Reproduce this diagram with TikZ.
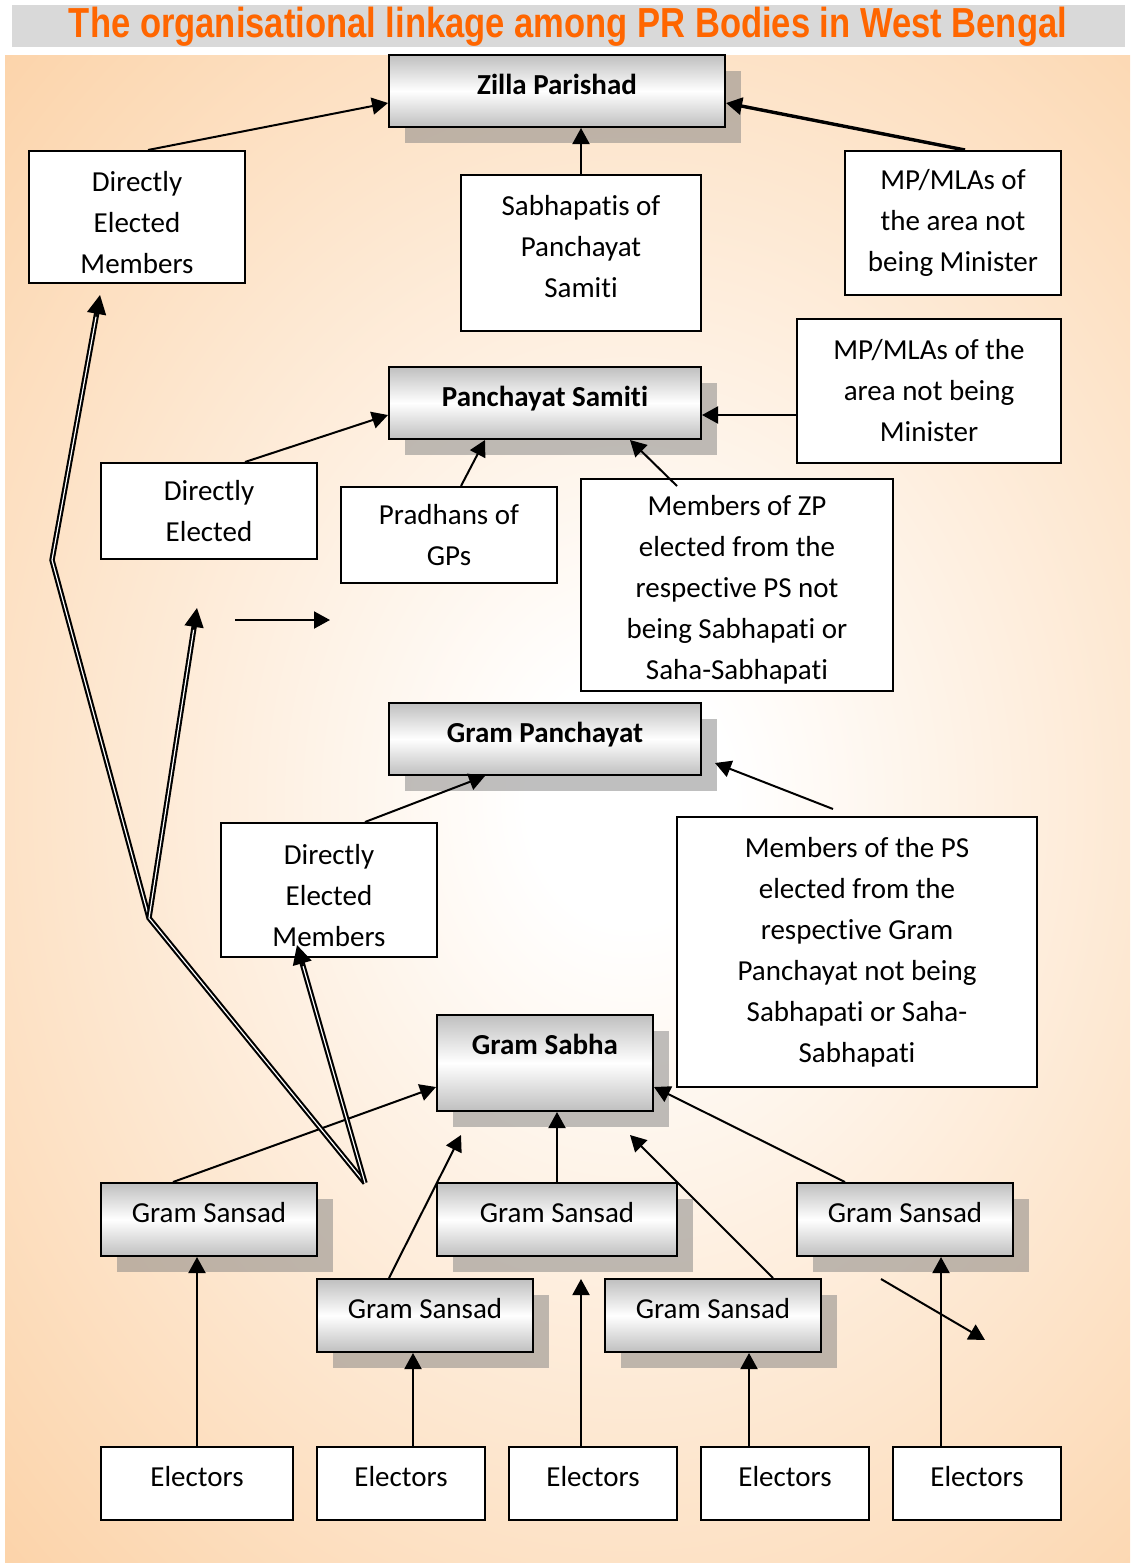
\documentclass[tikz,border=0pt]{standalone}
\usepackage{fontspec}
\usepackage{graphicx}
\setmainfont{Carlito}[Ligatures={NoCommon}]
\newfontfamily\titlefont{Liberation Sans}
\usetikzlibrary{arrows.meta,calc,shadows}
\definecolor{panelc}{RGB}{251,201,149}
\definecolor{titlec}{RGB}{255,102,0}
\pgfdeclareradialshading{panelshade}{\pgfpointorigin}{color(0bp)=(white); color(4bp)=(white); color(42bp)=(panelc); color(50bp)=(panelc)}
\newcommand{\boxfont}{\fontsize{14.5}{20.5}\selectfont}
\newcommand{\dnstrut}{\rule{0pt}{15.3pt}}
\begin{document}
\begin{tikzpicture}[x=0.5pt,y=-0.5pt,
  wbox/.style={draw=black, line width=1pt, fill=white, align=center, inner sep=0pt, font=\boxfont},
  ebox/.style={wbox, text height=10pt, text depth=7pt},
  gbox/.style={draw=black, line width=1pt, top color=black!25, bottom color=black!25, middle color=white,
     drop shadow={shadow xshift=8pt, shadow yshift=-8pt}, inner sep=0pt, font=\boxfont,
     text height=10pt, text depth=7pt},
  arr/.style={-{Triangle[length=8pt,width=8.5pt]}, line width=1pt, draw=black},
  bigarr/.style={-{Triangle[length=9.5pt,width=9.5pt]}, line width=1pt, draw=black},
  dbl/.style={draw=black, line width=1.05pt, double=white, double distance=0.6pt}]
\useasboundingbox (0,0) rectangle (1130,1563);
\fill[white] (0,0) rectangle (1130,1563);
% title bar
\fill[black!15] (12,5) rectangle (1125,47);
\node[inner sep=0pt, text=titlec] (title) at (568,27)
  {\resizebox{499pt}{\height}{\titlefont\bfseries\fontsize{21}{24}\selectfont The organisational linkage among PR Bodies in West Bengal}};
% panel
\begin{scope}
  \clip (5,55) rectangle (1130,1563);
  \shade[shading=panelshade] (-10,20) rectangle (1270,1580);
\end{scope}
% Zilla Parishad level
\node[gbox, minimum width=168pt, minimum height=36pt, font=\boxfont\bfseries] (zp) at (557,91) {Zilla Parishad};
\node[wbox, minimum width=108pt, minimum height=66pt] (de1) at (137,217) {\dnstrut Directly\\Elected\\Members};
\node[wbox, minimum width=120pt, minimum height=78pt] (sab) at (581,253) {Sabhapatis of\\Panchayat\\Samiti\rule[-7pt]{0pt}{0pt}};
\node[wbox, minimum width=108pt, minimum height=72pt] (mp1) at (953,223) {MP/MLAs of\\the area not\\being Minister};
% Panchayat Samiti level
\node[gbox, minimum width=156pt, minimum height=36pt, font=\boxfont\bfseries] (ps) at (545,403) {Panchayat Samiti};
\node[wbox, minimum width=132pt, minimum height=72pt] (mp2) at (929,391) {MP/MLAs of the\\area not being\\Minister};
\node[wbox, minimum width=108pt, minimum height=48pt] (de2) at (209,511) {Directly\\Elected};
\node[wbox, minimum width=108pt, minimum height=48pt] (prad) at (449,535) {Pradhans of\\GPs};
\node[wbox, minimum width=156pt, minimum height=106pt] (mzp) at (737,585) {\dnstrut Members of ZP\\elected from the\\respective PS not\\being Sabhapati or\\Saha-Sabhapati};
% Gram Panchayat level
\node[gbox, minimum width=156pt, minimum height=36pt, font=\boxfont\bfseries] (gp) at (545,739) {Gram Panchayat};
\node[wbox, minimum width=108pt, minimum height=67pt] (de3) at (329,890) {\dnstrut Directly\\Elected\\Members};
\node[wbox, minimum width=180pt, minimum height=135pt] (mps) at (857,952) {Members of the PS\\elected from the\\respective Gram\\Panchayat not being\\Sabhapati or Saha-\\Sabhapati};
% Gram Sabha level
\node[gbox, minimum width=108pt, minimum height=48pt, font=\boxfont\bfseries, text depth=19pt] (gs) at (545,1063) {Gram Sabha};
\node[gbox, minimum width=108pt, minimum height=36.5pt] (gs1) at (209,1219.5) {Gram Sansad};
\node[gbox, minimum width=120pt, minimum height=36.5pt] (gs2) at (557,1219.5) {Gram Sansad};
\node[gbox, minimum width=108pt, minimum height=36.5pt] (gs3) at (905,1219.5) {Gram Sansad};
\node[gbox, minimum width=108pt, minimum height=36.5pt] (gs4) at (425,1315.5) {Gram Sansad};
\node[gbox, minimum width=108pt, minimum height=36.5pt] (gs5) at (713,1315.5) {Gram Sansad};
% Electors
\node[ebox, minimum width=96pt, minimum height=36.5pt] (e1) at (197,1483.5) {Electors};
\node[ebox, minimum width=84pt, minimum height=36.5pt] (e2) at (401,1483.5) {Electors};
\node[ebox, minimum width=84pt, minimum height=36.5pt] (e3) at (593,1483.5) {Electors};
\node[ebox, minimum width=84pt, minimum height=36.5pt] (e4) at (785,1483.5) {Electors};
\node[ebox, minimum width=84pt, minimum height=36.5pt] (e5) at (977,1483.5) {Electors};
% free coordinates
\coordinate (h1) at (235,620);
\coordinate (h2) at (330,620);
\coordinate (gpa) at (833,809);
\coordinate (gpt) at (715,763);
\coordinate (t4) at (461,1135);
\coordinate (t5) at (630,1135);
\coordinate (t6) at (581,1279);
\coordinate (s1) at (881,1279);
\coordinate (s2) at (985,1340);
\coordinate (c1) at (365,1183);
\coordinate (c2) at (149,918);
\coordinate (c3) at (52,560);
\coordinate (t1) at (100,295);
\coordinate (t2) at (197,608);
\coordinate (t3) at (297,945);
% connectors
\draw[arr] ($(de1.north)+(11,0)$) -- ($(zp.west)+(0,12)$);
\draw[arr] (sab.north) -- (zp.south -| sab.north);
\draw[arr, line width=1.7pt] ($(mp1.north)+(12,0)$) -- ($(zp.east)+(0,12)$);
\draw[arr] ($(mp2.west)+(0,24)$) -- ($(ps.east)+(0,12)$);
\draw[arr] ($(de2.north)+(36,0)$) -- ($(ps.west)+(0,12)$);
\draw[arr] ($(prad.north)+(12,0)$) -- ($(ps.south)+(-60,0)$);
\draw[arr] ($(mzp.north)+(-60,8)$) -- ($(ps.south)+(85,0)$);
\draw[arr] (h1) -- (h2);
\draw[arr] ($(de3.north)+(36,0)$) -- ($(gp.south)+(-60,0)$);
\draw[arr] (gpa) -- (gpt);
\draw[arr] ($(gs1.north)+(-36,0)$) -- ($(gs.west)+(0,24)$);
\draw[arr] (gs2.north) -- (gs.south -| gs2.north);
\draw[arr] ($(gs3.north)+(-60,0)$) -- ($(gs.east)+(0,24)$);
\draw[arr] ($(gs4.north)+(-36,0)$) -- (t4);
\draw[arr] ($(gs5.north)+(60,0)$) -- (t5);
\draw[arr] ($(e3.north)+(-12,0)$) -- (t6);
\draw[arr] (e1.north) -- (gs1.south -| e1.north);
\draw[arr] ($(e2.north)+(12,0)$) -- ($(gs4.south)+(-12,0)$);
\draw[arr] ($(e4.north)+(-36,0)$) -- ($(gs5.south)+(36,0)$);
\draw[arr] ($(e5.north)+(-36,0)$) -- ($(gs3.south)+(36,0)$);
\draw[arr] (s1) -- (s2);
% double-line connectors
\draw[dbl] (c1) -- (c2) -- (c3) -- ($(t1)!7pt!(c3)$);
\draw[dbl] (c2) -- ($(t2)!7pt!(c2)$);
\draw[dbl] (c1) -- ($(t3)!7pt!(c1)$);
\draw[bigarr] ($(t1)!11pt!(c3)$) -- (t1);
\draw[bigarr] ($(t2)!11pt!(c2)$) -- (t2);
\draw[bigarr] ($(t3)!11pt!(c1)$) -- (t3);
\end{tikzpicture}
\end{document}
